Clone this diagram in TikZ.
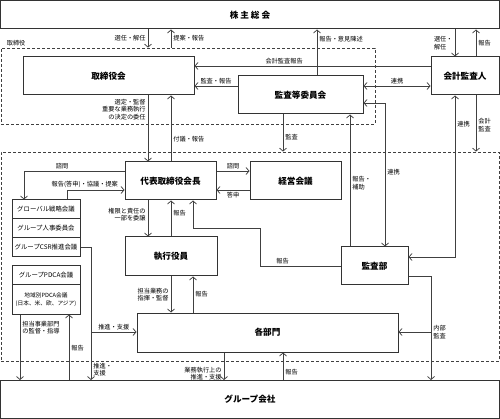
\documentclass[tikz,border=0pt]{standalone}
\usepackage{fontspec}
\setmainfont{Noto Sans CJK JP}
\usetikzlibrary{positioning, arrows.meta}
\tikzstyle{caja} = [draw=black!80, line width=1pt, rectangle, inner sep=0pt, font=\fontsize{8.6}{10}\selectfont\bfseries]
\tikzstyle{cajita} = [draw=black!80, line width=1pt, rectangle, inner sep=0pt, minimum width=68pt, minimum height=19pt, align=center, font=\fontsize{6.4}{7.6}\selectfont]
\tikzstyle{region} = [draw=black!75, line width=0.8pt, dash pattern=on 3pt off 2pt, rectangle, inner sep=0pt]
\tikzstyle{flecha} = [draw=black!75, line width=0.75pt, >={Straight Barb[length=3pt,width=7pt]}]
\tikzstyle{etiq} = [font=\fontsize{6.2}{7.4}\selectfont, inner sep=2pt, align=left]

\begin{document}
\begin{tikzpicture}[x=1pt, y=-1pt]
	\useasboundingbox (0,0) rectangle (500,419);
	% regiones punteadas
	\node [region, minimum width=374pt, minimum height=76pt] (torireg) at (188,86) {};
	\node [region, minimum width=498pt, minimum height=209pt] (lowreg) at (250,256.5) {};
	\node [etiq, above right=-1pt and 4pt of torireg.north west] (torilbl) {取締役};
	% cajas
	\node [caja, minimum width=499pt, minimum height=28.5pt] (soukai) at (250,14.75) {株 主 総 会};
	\node [caja, minimum width=171pt, minimum height=38pt] (torishimari) at (108.5,76) {取締役会};
	\node [caja, minimum width=125pt, minimum height=38pt] (iinkai) at (300.5,95) {監査等委員会};
	\node [caja, minimum width=68pt, minimum height=38pt] (kaikei) at (465,76) {会計監査人};
	\node [caja, minimum width=91pt, minimum height=38pt] (daihyo) at (170.5,181) {代表取締役会長};
	\node [caja, minimum width=91pt, minimum height=38pt] (keiei) at (295.5,181) {経営会議};
	\node [caja, minimum width=92pt, minimum height=39pt] (shikko) at (171,256.5) {執行役員};
	\node [caja, minimum width=67pt, minimum height=38pt] (kansabu) at (374.5,266) {監査部};
	\node [caja, minimum width=261pt, minimum height=39pt] (bumon) at (267.5,332.5) {各部門};
	\node [caja, minimum width=499pt, minimum height=38pt] (group) at (250,399.5) {グループ会社};
	\node [cajita] (g1) at (46,209.5) {グローバル戦略会議};
	\node [cajita] (g2) at (46,228.5) {グループ人事委員会};
	\node [cajita] (g3) at (46,247.5) {グループCSR推進会議};
	\node [cajita] (p1) at (46,275.5) {グループPDCA会議};
	\node [cajita, minimum height=29pt, font=\fontsize{5.7}{7.6}\selectfont] (p2) at (46,299.5) {地域別PDCA会議\\(日本、米、欧、アジア)};
	% columnas y filas
	\coordinate (xa) at (148,0);
	\coordinate (xb) at (171,0);
	\coordinate (xc) at (193,0);
	\coordinate (xd) at (260,0);
	\coordinate (xe) at (283,0);
	\coordinate (xf) at (317,0);
	\coordinate (xg) at (350,0);
	\coordinate (xh) at (385,0);
	\coordinate (xi) at (455,0);
	\coordinate (xk) at (476,0);
	\coordinate (xl) at (24,0);
	\coordinate (xm) at (67,0);
	\coordinate (xn) at (91,0);
	\coordinate (xo) at (20,0);
	\coordinate (xp) at (69,0);
	\coordinate (xq) at (224,0);
	\coordinate (xs) at (431,0);
	\coordinate (ya) at (0,66);
	\coordinate (yb) at (0,86);
	\coordinate (yc) at (0,103);
	\coordinate (yd) at (0,171);
	\coordinate (ye) at (0,190);
	\coordinate (yg) at (0,228);
	\coordinate (yh) at (0,266);
	\coordinate (yi) at (0,247);
	\coordinate (yj) at (0,257);
	\coordinate (yk) at (0,276);
	\coordinate (yl) at (0,332);
	% conexiones
	\draw [flecha,->] (soukai.south -| xa) -- node[etiq,left] (t1) {選任・解任} (torireg.north -| xa);
	\draw [flecha,->] (torireg.north -| xb) -- node[etiq,right] (t2) {提案・報告} (soukai.south -| xb);
	\draw [flecha,->] (iinkai.north -| xf) -- node[etiq,right,pos=0.8] (t3) {報告・意見陳述} (soukai.south -| xf);
	\draw [flecha,->] (soukai.south -| xi) -- node[etiq,left] (t4) {選任・\\解任} (kaikei.north -| xi);
	\draw [flecha,->] (kaikei.north -| xk) -- node[etiq,right] (t5) {報告} (soukai.south -| xk);
	\draw [flecha,->] (kaikei.west |- ya) -- node[etiq,above,pos=0.62] (t6) {会計監査報告} (torishimari.east |- ya);
	\draw [flecha,->] (iinkai.west |- yb) -- node[etiq,above] (t7) {監査・報告} (torishimari.east |- yb);
	\draw [flecha,<->] (iinkai.east |- yb) -- node[etiq,above] (t8) {連携} (kaikei.west |- yb);
	\draw [flecha,->] (torishimari.south -| xa) -- node[etiq,left,align=right,pos=0.21] (t9) {選定・監督\\重要な業務執行\\の決定の委任} (daihyo.north -| xa);
	\draw [flecha,->] (daihyo.north -| xb) -- node[etiq,right,pos=0.34] (t10) {付議・報告} (torishimari.south -| xb);
	\draw [flecha,->] (iinkai.south -| xe) -- node[etiq,right,pos=0.6] (t11) {監査} (lowreg.north -| xe);
	\draw [flecha,->] (kaikei.south -| xk) -- node[etiq,right,pos=0.53] (t12) {会計\\監査} (lowreg.north -| xk);
	\draw [flecha,->] (kansabu.north -| xg) -- node[etiq,right,pos=0.48] (t13) {報告・\\補助} (iinkai.south -| xg);
	\draw [flecha,<->] (kansabu.north -| xh) |- node[etiq,right,pos=0.26] (t14) {連携} (iinkai.east |- yc);
	\draw [flecha,<->] (kaikei.south -| xi) |- node[etiq,right,pos=0.09] (t15) {連携} (kansabu.east |- yj);
	\draw [flecha,->] (daihyo.east |- yd) -- node[etiq,above] (t16) {諮問} (keiei.west |- yd);
	\draw [flecha,->] (keiei.west |- ye) -- node[etiq,below] (t17) {答申} (daihyo.east |- ye);
	\draw [flecha,->] (daihyo.west |- yd) -| node[etiq,above,pos=0.31] (t18) {諮問} (g1.north -| xl);
	\draw [flecha,->] (g1.north -| xm) |- node[etiq,above,pos=0.655] (t19) {報告(答申)・協議・提案} (daihyo.west |- ye);
	\draw [flecha,->] (daihyo.south -| xa) -- node[etiq,left,align=right,pos=0.4] (t20) {権限と責任の\\一部を委譲} (shikko.north -| xa);
	\draw [flecha,->] (shikko.north -| xb) -- node[etiq,right,pos=0.65] (t21) {報告} (daihyo.south -| xb);
	\draw [flecha,->] (kansabu.west |- yh) -- node[etiq,above,pos=0.72] (t22) {報告} (xd |- yh) -- (xd |- yg) -| (daihyo.south -| xc);
	\draw [flecha,->] (shikko.south -| xb) -- node[etiq,left,align=right] (t23) {担当業務の\\指揮・監督} (bumon.north -| xb);
	\draw [flecha,->] (bumon.north -| xc) -- node[etiq,right] (t24) {報告} (shikko.south -| xc);
	\draw [flecha,->] (g3.east |- yi) -| node[etiq,right,pos=0.96] (t25) {推進・\\支援} (group.north -| xn);
	\draw [flecha,->] (xn |- yl) -- node[etiq,above] (t26) {推進・支援} (bumon.west |- yl);
	\draw [flecha,->] (p2.south -| xo) -- node[etiq,right,pos=0.2] (t27) {担当事業部門\\の監督・指導} (group.north -| xo);
	\draw [flecha,->] (group.north -| xp) -- node[etiq,right,pos=0.48] (t28) {報告} (p2.south -| xp);
	\draw [flecha,->] (bumon.south -| xq) -- node[etiq,left,align=right,pos=0.77] (t29) {業務執行上の\\推進・支援} (group.north -| xq);
	\draw [flecha,->] (group.north -| xe) -- node[etiq,right,pos=0.3] (t30) {報告} (bumon.south -| xe);
	\draw [flecha,->] (kansabu.east |- yk) -| node[etiq,right,pos=0.77] (t31) {内部\\監査} (group.north -| xs);
	\draw [flecha,->] (xs |- yl) -- (bumon.east |- yl);
\end{tikzpicture}
\end{document}
